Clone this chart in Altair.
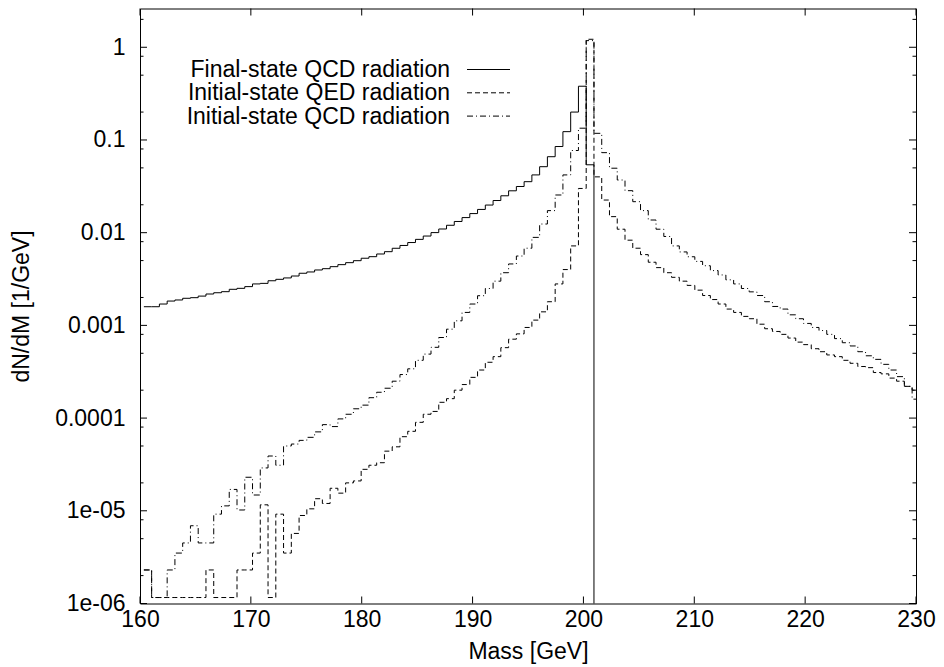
import altair as alt
import pandas as pd

# ---------------- data ----------------
BIN_START = 160.35   # first bin position [GeV]
BIN_WIDTH = 0.7      # bin width [GeV]

series_names = [
    "Final-state QCD radiation",
    "Initial-state QED radiation",
    "Initial-state QCD radiation",
]

# Final-state QCD radiation (solid); last bin empty
final_qcd = [
    0.00159, 0.00159, 0.0017, 0.00183, 0.00188, 0.00196, 0.00199, 0.00207,
    0.00218, 0.00225, 0.00231, 0.00245, 0.00251, 0.00262, 0.0028, 0.00284,
    0.00303, 0.00314, 0.00325, 0.00341, 0.00365, 0.00377, 0.00396, 0.00409,
    0.0043, 0.00452, 0.00475, 0.00499, 0.0053, 0.00551, 0.00589, 0.00624,
    0.00679, 0.00728, 0.00783, 0.00847, 0.0092, 0.01002, 0.01096, 0.01202,
    0.01321, 0.01455, 0.01607, 0.01782, 0.01986, 0.02223, 0.025, 0.0283,
    0.0315, 0.0355, 0.042, 0.0515, 0.066, 0.085, 0.123, 0.20, 0.38, 0.054,
    0.0,
]

# Initial-state QED radiation (dashed)
initial_qed = [
    2.3e-6, 1.16e-6, 1.16e-6, 1.16e-6, 1.16e-6, 1.16e-6, 1.16e-6, 1.16e-6,
    2.3e-6, 1.16e-6, 1.16e-6, 1.16e-6, 2.3e-6, 2.3e-6, 3.5e-6, 1.16e-5,
    1.16e-6, 9.2e-6, 3.5e-6, 5.7e-6,
    8.9e-6, 1.05e-5, 1.35e-5, 1.2e-5, 1.75e-5, 1.55e-5, 2.0e-5, 2.1e-5,
    2.8e-5, 3.1e-5, 3.3e-5, 4.4e-5, 4.9e-5, 6.3e-5, 7.2e-5, 9.0e-5,
    1.10e-4, 1.18e-4, 1.48e-4, 1.62e-4, 2.0e-4, 2.3e-4, 2.75e-4, 3.3e-4,
    4.0e-4, 4.6e-4, 5.75e-4, 7.1e-4, 8.1e-4, 9.5e-4,
    1.14e-3, 1.4e-3, 1.8e-3, 2.8e-3, 4.0e-3, 7.2e-3, 0.030, 1.22,
    0.040, 0.0225, 0.0149, 0.0109, 0.0083, 0.0068, 0.0058, 0.0048,
    0.0042, 0.0037, 0.0033, 0.0030, 0.0027, 0.0024, 0.0021, 0.0019,
    0.0017, 0.0015, 0.00138, 0.00125, 0.00118, 0.00103, 0.00092, 0.00086,
    0.0008, 0.00073, 0.00066, 0.00062, 0.00056, 0.00052, 0.00048, 0.00046,
    0.00042, 0.00039, 0.00036, 0.00035, 0.00031, 0.00030, 0.00027, 0.00025,
    0.00022, 0.00020,
]

# Initial-state QCD radiation (dash-dot)
initial_qcd = [
    2.3e-6, 1.16e-6, 1.16e-6, 2.3e-6, 3.5e-6, 4.5e-6, 6.9e-6, 4.5e-6,
    4.5e-6, 9.2e-6, 1.13e-5, 1.7e-5, 1.02e-5, 2.3e-5, 1.48e-5, 2.9e-5,
    3.9e-5, 3.1e-5, 5.0e-5, 5.25e-5,
    5.75e-5, 6.2e-5, 7.1e-5, 8.5e-5, 8.1e-5, 9.8e-5, 1.1e-4, 1.26e-4,
    1.38e-4, 1.66e-4, 1.9e-4, 2.1e-4, 2.5e-4, 2.95e-4, 3.4e-4, 4.2e-4,
    4.9e-4, 5.8e-4, 7.4e-4, 9.1e-4, 1.12e-3, 1.38e-3, 1.7e-3, 2.09e-3,
    2.5e-3, 3.0e-3, 3.7e-3, 4.6e-3, 5.6e-3,
    6.8e-3, 8.9e-3, 0.0124, 0.0173, 0.0255, 0.042, 0.077, 0.134, 1.18,
    0.118, 0.073, 0.0496, 0.037, 0.0284, 0.0216, 0.0173, 0.0137, 0.0109,
    0.0091, 0.0072,
    0.0062, 0.0055, 0.0049, 0.0044, 0.0039, 0.0035, 0.0031, 0.0028,
    0.0025, 0.0023, 0.0021, 0.0018, 0.0016, 0.0015, 0.0013, 0.00118,
    0.00105, 0.00095, 0.00088, 0.0008, 0.00072, 0.00065, 0.0006, 0.00052,
    0.00047, 0.00043, 0.00038, 0.00033, 0.00028, 0.00022, 0.00016,
]

x_ticks = [160, 170, 180, 190, 200, 210, 220, 230]
y_major = [1e-6, 1e-5, 1e-4, 1e-3, 1e-2, 1e-1, 1]
y_labels = ["1e-06", "1e-05", "0.0001", "0.001", "0.01", "0.1", "1"]
y_minor = [m * d for d in [1e-6, 1e-5, 1e-4, 1e-3, 1e-2, 1e-1, 1] for m in (2, 5, 8)
           if m * d <= 2.6]

# ---------------- layout / style ----------------
W, H = 776, 595
FONT = "Liberation Sans"
FS = 23
FLOOR = 1e-9  # empty bins drawn below the axis (clipped), like the reference

xs = alt.Scale(domain=[160, 230], nice=False, zero=False)
ys = alt.Scale(type="log", domain=[1e-6, 2.62], nice=False)

label_expr = "[" + ",".join("'%s'" % s for s in y_labels) + "][round(log(datum.value)/LN10)+6]"

x_axis = alt.Axis(
    values=x_ticks, format="d", ticks=False, domain=False, grid=False,
    labelFont=FONT, labelFontSize=FS, labelColor="black", labelPadding=5,
    labelFlush=False, labelOverlap=False,
    title="Mass [GeV]", titleFont=FONT, titleFontSize=FS, titleFontWeight="normal",
    titleColor="black", titleX=W / 2, titleY=48, titleBaseline="middle", titleAlign="center",
)
y_axis = alt.Axis(
    values=y_major, labelExpr=label_expr, ticks=False, domain=False, grid=False,
    labelFont=FONT, labelFontSize=FS, labelColor="black", labelPadding=15,
    labelOverlap=False, labelFlush=False,
    title="dN/dM [1/GeV]", titleFont=FONT, titleFontSize=FS, titleFontWeight="normal",
    titleColor="black", titleX=-119, titleY=H / 2, titleAngle=270,
    titleBaseline="middle", titleAlign="center",
)


def hist_df(vals):
    n = len(vals)
    mass = [round(BIN_START + BIN_WIDTH * i, 2) for i in range(n + 1)]
    v = [x if x > 0 else FLOOR for x in vals]
    v = v + [v[-1]]
    return pd.DataFrame({"mass": mass, "val": v})


def hist_line(vals, dash):
    kw = dict(interpolate="step-after", clip=True, color="black", strokeWidth=1)
    if dash:
        kw["strokeDash"] = dash
    return alt.Chart(hist_df(vals)).mark_line(**kw).encode(
        x=alt.X("mass:Q", scale=xs, axis=x_axis),
        y=alt.Y("val:Q", scale=ys, axis=y_axis),
    )


MAJ, MIN = 7, 3.5
xt = pd.DataFrame({"t": x_ticks})
ymaj = pd.DataFrame({"t": y_major})
ymin = pd.DataFrame({"t": y_minor})

rule = dict(color="black", strokeWidth=1)
x_bottom = alt.Chart(xt).mark_rule(**rule).encode(
    x=alt.X("t:Q", scale=xs, axis=x_axis), y=alt.value(H), y2=alt.value(H - MAJ))
x_top = alt.Chart(xt).mark_rule(**rule).encode(
    x=alt.X("t:Q", scale=xs, axis=x_axis), y=alt.value(0), y2=alt.value(MAJ))
y_left = alt.Chart(ymaj).mark_rule(**rule).encode(
    y=alt.Y("t:Q", scale=ys, axis=y_axis), x=alt.value(0), x2=alt.value(MAJ))
y_right = alt.Chart(ymaj).mark_rule(**rule).encode(
    y=alt.Y("t:Q", scale=ys, axis=y_axis), x=alt.value(W), x2=alt.value(W - MAJ))
y_left_min = alt.Chart(ymin).mark_rule(**rule).encode(
    y=alt.Y("t:Q", scale=ys, axis=y_axis), x=alt.value(0), x2=alt.value(MIN))
y_right_min = alt.Chart(ymin).mark_rule(**rule).encode(
    y=alt.Y("t:Q", scale=ys, axis=y_axis), x=alt.value(W), x2=alt.value(W - MIN))

dashes = [None, [5, 3], [6, 3, 1, 3]]
lines = [
    hist_line(final_qcd, dashes[0]),
    hist_line(initial_qed, dashes[1]),
    hist_line(initial_qcd, dashes[2]),
]

# legend (manual, gnuplot style: text right-aligned, sample to the right)
legend_layers = []
text_x, line_x1, line_x2 = 310, 327, 370
row_base = [68.5, 91.8, 115.1]
for i, name in enumerate(series_names):
    df = pd.DataFrame({"label": [name]})
    legend_layers.append(
        alt.Chart(df).mark_text(align="right", baseline="alphabetic", font=FONT,
                                fontSize=FS, color="black").encode(
            text="label:N", x=alt.value(text_x), y=alt.value(row_base[i]))
    )
    rkw = dict(color="black", strokeWidth=1)
    if dashes[i]:
        rkw["strokeDash"] = dashes[i]
    legend_layers.append(
        alt.Chart(df).mark_rule(**rkw).encode(
            x=alt.value(line_x1), x2=alt.value(line_x2), y=alt.value(row_base[i] - 7.5))
    )

chart = alt.layer(
    *lines, x_bottom, y_left, x_top, y_right, y_left_min, y_right_min,
    *legend_layers,
).properties(
    width=W, height=H,
    autosize=alt.AutoSizeParams(type="none"),
    padding={"left": 132, "top": 0.5, "right": 20, "bottom": 63},
    background="white",
).configure_view(
    stroke="black", strokeWidth=1,
)

chart.save("out.html", embed_options={"renderer": "svg", "actions": False})
